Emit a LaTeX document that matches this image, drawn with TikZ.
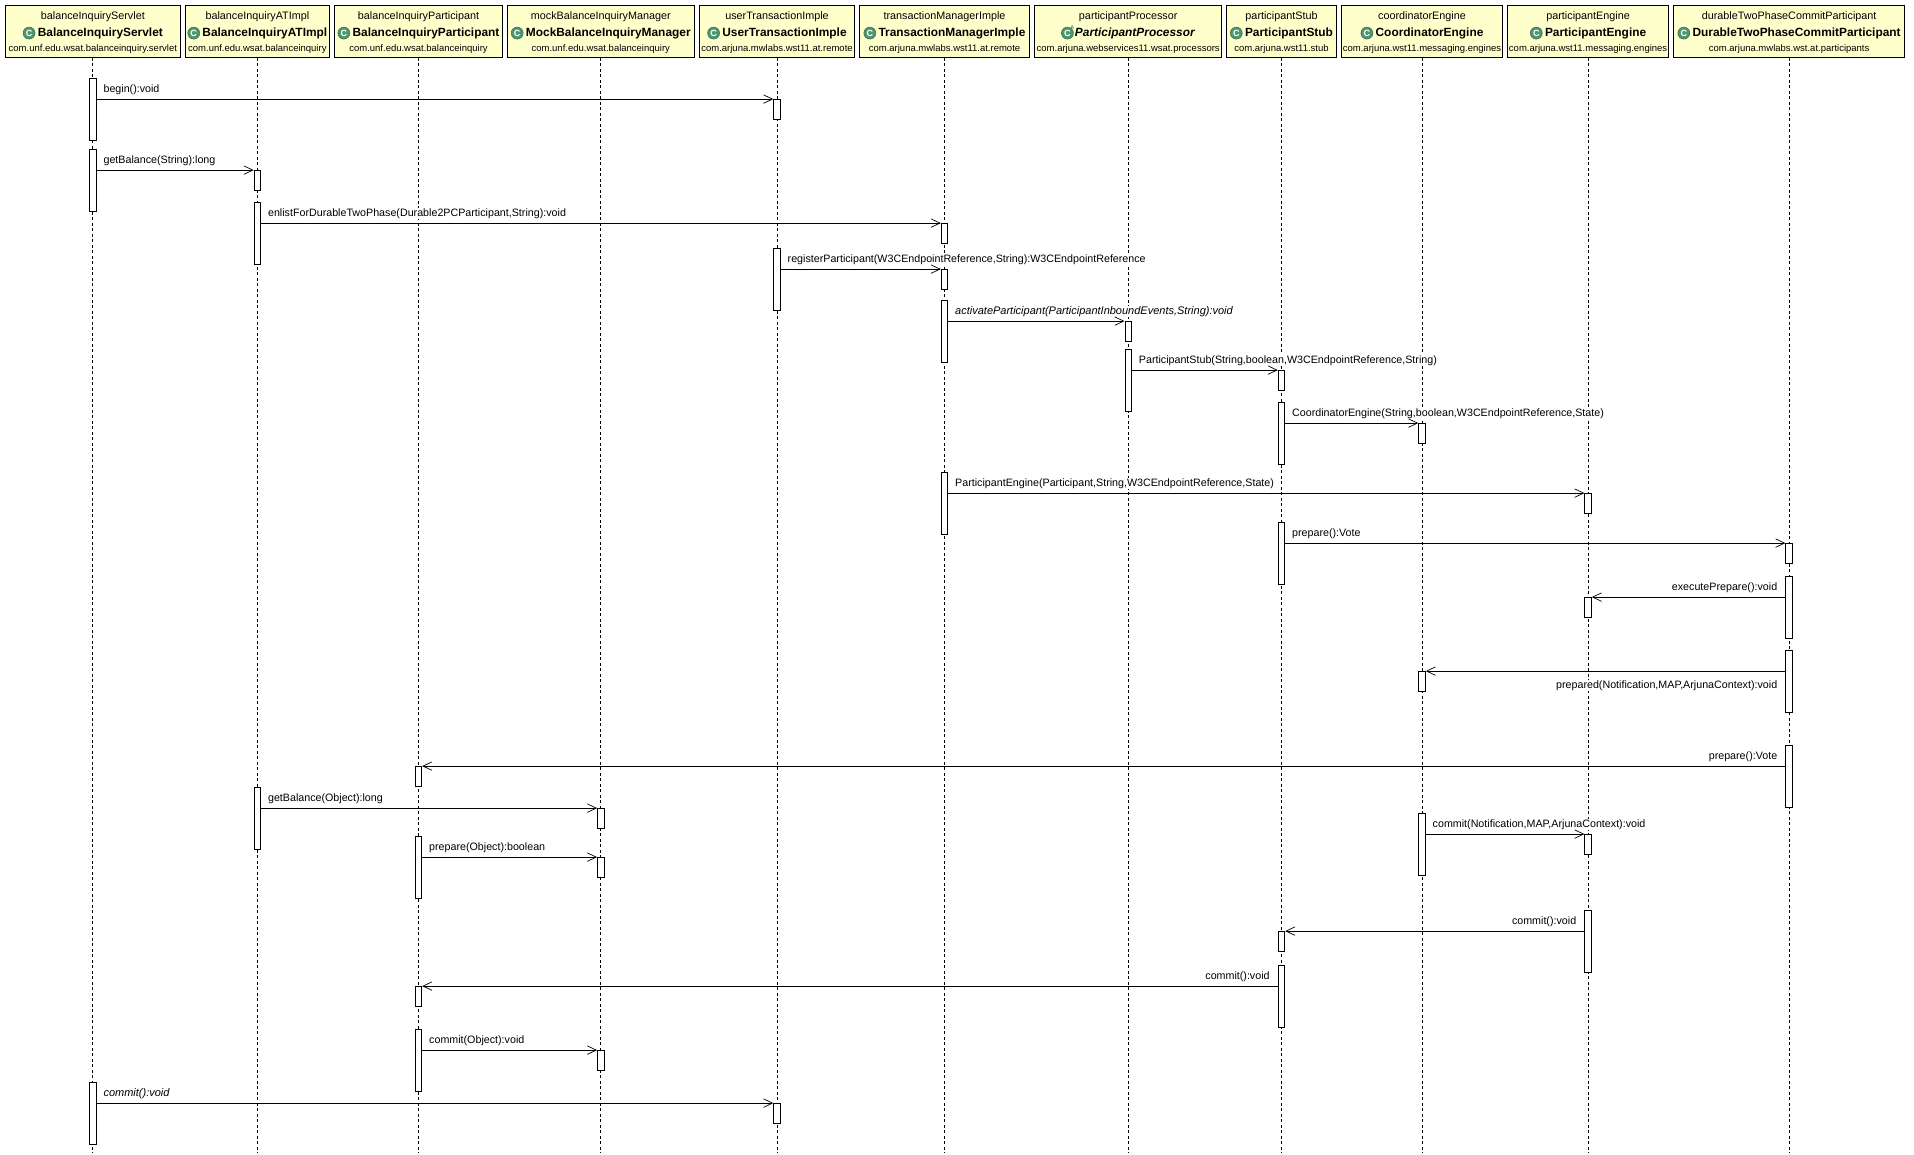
\documentclass[tikz,border=0pt]{standalone}
\usepackage{fontspec}
\setmainfont{Liberation Sans}
\usetikzlibrary{arrows.meta,calc}
\definecolor{headfill}{HTML}{FFFFCB}
\definecolor{icongreen}{HTML}{4F9670}
\newcommand{\tfont}{\fontsize{10.8}{16}\selectfont}
\newcommand{\cfont}{\fontsize{11.9}{16}\selectfont\bfseries}
\newcommand{\pfont}{\fontsize{9.5}{16}\selectfont}
\tikzset{
  x=1pt,y=-1pt,
  headbox/.style={draw=black,line width=1.2pt,fill=headfill,rectangle,inner sep=0pt,align=center,minimum height=52pt,minimum width=#1,text height=46.1pt,text depth=5.9pt,font=\tfont},
  iconball/.style={circle,fill=icongreen,draw=icongreen!70!black,line width=0.5pt,inner sep=0pt,minimum size=12pt,text=white,text height=,text depth=,align=none,font=\fontsize{9}{9}\selectfont\bfseries},
  iconmark/.style={inner sep=0pt,minimum size=0pt,text=icongreen,text height=,text depth=,align=none,font=\fontsize{5.5}{5.5}\selectfont\bfseries},
  lifeline/.style={draw=black,line width=0.8pt,dash pattern=on 3pt off 2.5pt},
  act/.style={draw=black,fill=white,line width=1pt,rectangle,inner sep=0pt,minimum width=6.4pt},
  msg/.style={draw=black,line width=1pt,-{Straight Barb[length=9pt,width=8.5pt,line width=0.7pt]}},
  lbl/.style={font=\fontsize{10.7}{12}\selectfont,fill=white,inner sep=0.5pt,text=black},
  ilbl/.style={lbl,font=\fontsize{11}{12}\selectfont\itshape}
}
\newcommand{\cicon}{\tikz[baseline=(ic.base)]\node[iconball] (ic) {C};\hspace{2.5pt}}
\newcommand{\aicon}{\tikz[baseline=(ic.base)]{\node[iconball] (ic) at (0,0) {C};\node[iconmark] (ia) at (5,-5) {A};}\hspace{0.5pt}}
\newcommand{\head}[6]{\node[headbox=#3pt] (h#1) at (#2,31.3) {#4\\[0.7pt]{\cfont #5}\\[-0.8pt]{\pfont #6}};}
% id, source, target, y, label
\newcommand{\msgR}[6][lbl]{%
  \node[act,minimum height=62pt,anchor=north] (a#2) at (h#3.south |- 0,#5-21) {};
  \node[act,minimum height=20pt,anchor=north] (b#2) at (h#4.south |- 0,#5-0.2) {};
  \coordinate (c#2) at (a#2.east |- b#2.north);
  \node[#1,anchor=base west] (l#2) at ($(c#2)+(6.3,-6.5)$) {#6};
  \draw[msg] (c#2) -- (b#2.north west);}
\newcommand{\msgL}[6][-6.5]{%
  \node[act,minimum height=62pt,anchor=north] (a#2) at (h#3.south |- 0,#5-21) {};
  \node[act,minimum height=20pt,anchor=north] (b#2) at (h#4.south |- 0,#5-0.2) {};
  \coordinate (c#2) at (a#2.west |- b#2.north);
  \node[lbl,anchor=base east] (l#2) at ($(c#2)+(-7.5,#1)$) {#6};
  \draw[msg] (c#2) -- (b#2.north east);}
\begin{document}
\begin{tikzpicture}
\useasboundingbox[fill=white] (0,0) rectangle (1914,1154);
\head{1}{92.85}{175}{balanceInquiryServlet}{\cicon BalanceInquiryServlet}{com.unf.edu.wsat.balanceinquiry.servlet}
\head{2}{257.35}{144}{balanceInquiryATImpl}{\cicon BalanceInquiryATImpl}{com.unf.edu.wsat.balanceinquiry}
\head{3}{418.5}{167.7}{balanceInquiryParticipant}{\cicon BalanceInquiryParticipant}{com.unf.edu.wsat.balanceinquiry}
\head{4}{600.8}{187}{mockBalanceInquiryManager}{\cicon MockBalanceInquiryManager}{com.unf.edu.wsat.balanceinquiry}
\head{5}{777}{154.7}{userTransactionImple}{\cicon UserTransactionImple}{com.arjuna.mwlabs.wst11.at.remote}
\head{6}{944.5}{169.8}{transactionManagerImple}{\cicon TransactionManagerImple}{com.arjuna.mwlabs.wst11.at.remote}
\head{7}{1128.2}{187}{participantProcessor}{\aicon\textit{ParticipantProcessor}}{com.arjuna.webservices11.wsat.processors}
\head{8}{1281.5}{110}{participantStub}{\cicon ParticipantStub}{com.arjuna.wst11.stub}
\head{9}{1422}{161.3}{coordinatorEngine}{\cicon CoordinatorEngine}{com.arjuna.wst11.messaging.engines}
\head{10}{1588.1}{161.2}{participantEngine}{\cicon ParticipantEngine}{com.arjuna.wst11.messaging.engines}
\head{11}{1789.1}{231}{durableTwoPhaseCommitParticipant}{\cicon DurableTwoPhaseCommitParticipant}{com.arjuna.mwlabs.wst.at.participants}
\foreach \i in {1,...,11}{
  \coordinate (e\i) at (h\i.south |- 0,1153);
  \draw[lifeline] (h\i.south) -- (e\i);
}
\msgR{1}{1}{5}{99.3}{begin():void}
\msgR{2}{1}{2}{170.3}{getBalance(String):long}
\msgR{3}{2}{6}{223.3}{enlistForDurableTwoPhase(Durable2PCParticipant,String):void}
\msgR{4}{5}{6}{269.3}{registerParticipant(W3CEndpointReference,String):W3CEndpointReference}
\msgR[ilbl]{5}{6}{7}{321.3}{activateParticipant(ParticipantInboundEvents,String):void}
\msgR{6}{7}{8}{370.3}{ParticipantStub(String,boolean,W3CEndpointReference,String)}
\msgR{7}{8}{9}{423.3}{CoordinatorEngine(String,boolean,W3CEndpointReference,State)}
\msgR{8}{6}{10}{493.3}{ParticipantEngine(Participant,String,W3CEndpointReference,State)}
\msgR{9}{8}{11}{543.3}{prepare():Vote}
\msgL{10}{11}{10}{597.3}{executePrepare():void}
\msgL[17.5]{11}{11}{9}{671.3}{prepared(Notification,MAP,ArjunaContext):void}
\msgL{12}{11}{3}{766.3}{prepare():Vote}
\msgR{13}{2}{4}{808.3}{getBalance(Object):long}
\msgR{14}{3}{4}{857.3}{prepare(Object):boolean}
\msgR{15}{9}{10}{834.3}{commit(Notification,MAP,ArjunaContext):void}
\msgL{16}{10}{8}{931.3}{commit():void}
\msgL{17}{8}{3}{986.3}{commit():void}
\msgR{18}{3}{4}{1050.3}{commit(Object):void}
\msgR[ilbl]{19}{1}{5}{1103.3}{commit():void}
\end{tikzpicture}
\end{document}
